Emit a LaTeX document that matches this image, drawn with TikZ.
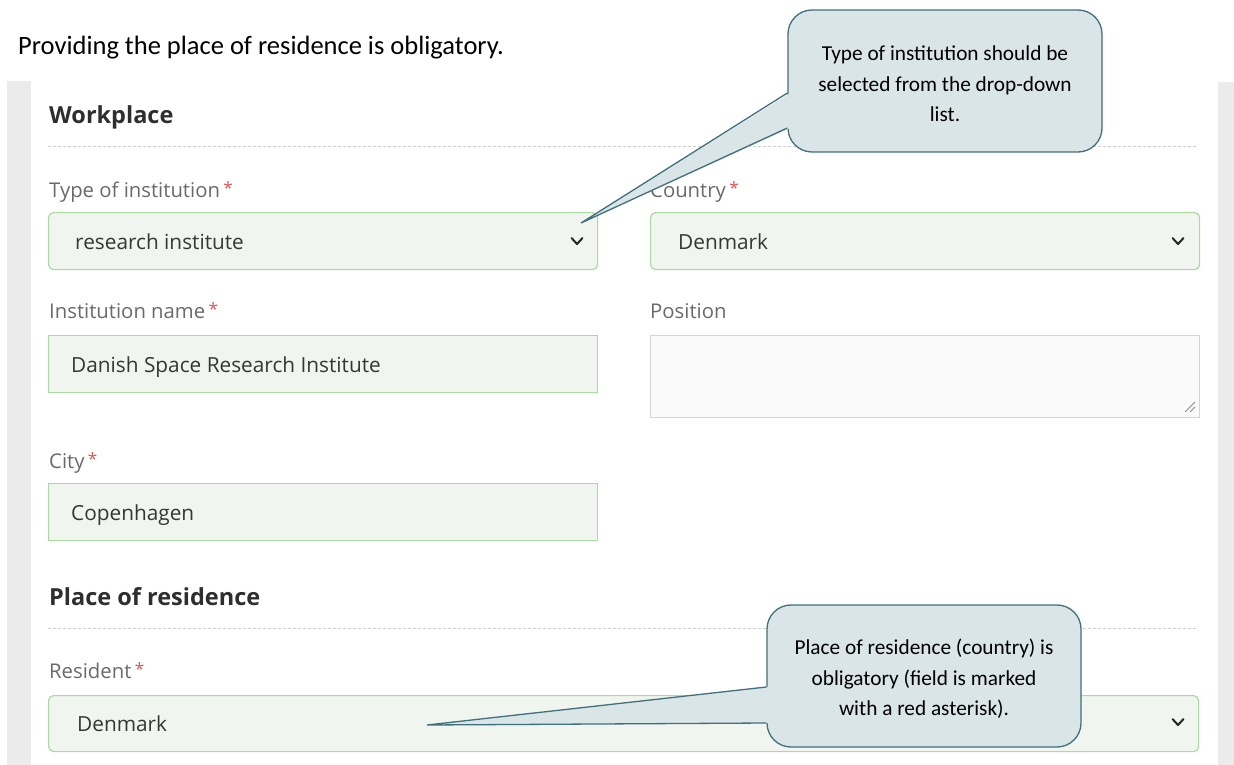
\documentclass[tikz,border=0pt]{standalone}
\usepackage{fontspec}
\newfontfamily\uifont{Open Sans}
\newfontfamily\calfont{Carlito}
\usetikzlibrary{calc}
\definecolor{bargray}{HTML}{EBEBEB}
\definecolor{dashgray}{HTML}{CFCFCF}
\definecolor{labelgray}{HTML}{6A6A6A}
\definecolor{valuegray}{HTML}{363636}
\definecolor{headgray}{HTML}{2E2E2E}
\definecolor{fieldfill}{HTML}{F0F5EF}
\definecolor{fieldline}{HTML}{A9DB9F}
\definecolor{areafill}{HTML}{FAFAFA}
\definecolor{arealine}{HTML}{D4D4D4}
\definecolor{astred}{HTML}{E05555}
\definecolor{calfill}{HTML}{DAE5E8}
\definecolor{calline}{HTML}{40707B}
\tikzset{
  lbl/.style={anchor=base west, inner sep=0pt, text=labelgray, font=\uifont\fontsize{20.3}{24}\selectfont},
  val/.style={anchor=base west, inner sep=0pt, text=valuegray, font=\uifont\fontsize{20.8}{24}\selectfont},
  head/.style={anchor=base west, inner sep=0pt, text=headgray, font=\uifont\bfseries\fontsize{23.5}{28}\selectfont},
  selbox/.style={draw=fieldline, fill=fieldfill, line width=1.2pt, rounded corners=5pt, anchor=north west, inner sep=0pt, minimum height=57pt},
  inbox/.style={draw=fieldline, fill=fieldfill, line width=1.2pt, anchor=north west, inner sep=0pt, minimum height=57pt},
  areabox/.style={draw=arealine, fill=areafill, line width=1.2pt, anchor=north west, inner sep=0pt},
  dashrule/.style={draw=dashgray, line width=1pt, dash pattern=on 3pt off 2pt},
  chev/.style={draw=black!85, line width=2pt, line cap=round, line join=round},
  callout/.style={draw=calline, fill=calfill, line width=1.3pt, rounded corners=24pt, minimum width=314pt, minimum height=142pt, inner sep=0pt},
  caltext/.style={inner sep=0pt, align=center, font=\calfont\fontsize{21.3}{30.5}\selectfont},
  wedge/.style={draw=calline, line width=1.3pt, line join=miter},
}
\newcommand{\reqmark}{\,\raisebox{3pt}{\color{astred}\fontsize{17}{17}\selectfont*}}
\begin{document}
\begin{tikzpicture}[x=1pt,y=-1pt]
\useasboundingbox (0,0) rectangle (1234,765);
\fill[white] (0,0) rectangle (1234,765);
% side bars
\fill[bargray] (7,81) rectangle (31,765);
\fill[bargray] (1218,82) rectangle (1234,765);

% title
\node[anchor=base west, inner sep=0pt, font=\calfont\fontsize{26.5}{30}\selectfont] (title) at (18,55) {Providing the place of residence is obligatory.};

% Workplace section
\node[head] (wp) at (49,124) {Workplace};
\draw[dashrule] (48,147) -- (1198,147);

\node[lbl] (ltype) at (49,197) {Type of institution\reqmark};
\node[selbox, minimum width=549pt] (ftype) at (48,212) {};
\node[val] (vtype) at (75,249) {research institute};
\coordinate (chtype) at (577,241);
\draw[chev] ($(chtype)+(-5.5,-3)$) -- ($(chtype)+(0,3)$) -- ($(chtype)+(5.5,-3)$);

\node[lbl] (lcountry) at (650,197) {Country\reqmark};
\node[selbox, minimum width=549pt] (fcountry) at (650,212) {};
\node[val] (vcountry) at (678,249) {Denmark};
\coordinate (chcountry) at (1178,241);
\draw[chev] ($(chcountry)+(-5.5,-3)$) -- ($(chcountry)+(0,3)$) -- ($(chcountry)+(5.5,-3)$);

\node[lbl] (lname) at (49,318) {Institution name\reqmark};
\node[inbox, minimum width=549pt] (fname) at (48,335) {};
\node[val] (vname) at (71,372) {Danish Space Research Institute};

\node[lbl] (lpos) at (650,318) {Position};
\node[areabox, minimum width=549pt, minimum height=82pt] (fpos) at (650,335) {};
\draw[draw=black!45, line width=0.8pt] (1185,412) -- (1195,402) (1190,412) -- (1195,407);

\node[lbl] (lcity) at (49,468) {City\reqmark};
\node[inbox, minimum width=549pt] (fcity) at (48,483) {};
\node[val] (vcity) at (71,520) {Copenhagen};

% Place of residence
\node[head] (pr) at (49,605) {Place of residence};
\draw[dashrule] (48,628) -- (1198,628);

\node[lbl] (lres) at (49,678) {Resident\reqmark};
\node[selbox, minimum width=1150pt, minimum height=56pt] (fres) at (48,695) {};
\node[val] (vres) at (77,731) {Denmark};
\coordinate (chres) at (1178,722);
\draw[chev] ($(chres)+(-5.5,-3)$) -- ($(chres)+(0,3)$) -- ($(chres)+(5.5,-3)$);

% Callout 1
\node[callout] (c1) at (945,81) {};
\coordinate (t1) at (581,223);
\coordinate (a1) at ([yshift=-12pt]c1.west);
\coordinate (b1) at ([yshift=-47pt]c1.west);
\fill[calfill] (t1) -- ([xshift=3pt]a1) -- ([xshift=3pt]b1) -- cycle;
\draw[wedge] (a1) -- (t1) -- (b1);
\node[caltext] (c1t) at ([yshift=-3pt]c1.center) {Type of institution should be\\selected from the drop-down\\list.};

% Callout 2
\node[callout] (c2) at (924,676) {};
\coordinate (t2) at (427,725);
\coordinate (a2) at ([yshift=-11pt]c2.west);
\coordinate (b2) at ([yshift=-47pt]c2.west);
\fill[calfill] (t2) -- ([xshift=3pt]a2) -- ([xshift=3pt]b2) -- cycle;
\draw[wedge] (a2) -- (t2) -- (b2);
\node[caltext] (c2t) at ([yshift=-3pt]c2.center) {Place of residence (country) is\\obligatory (field is marked\\with a red asterisk).};
\end{tikzpicture}
\end{document}
